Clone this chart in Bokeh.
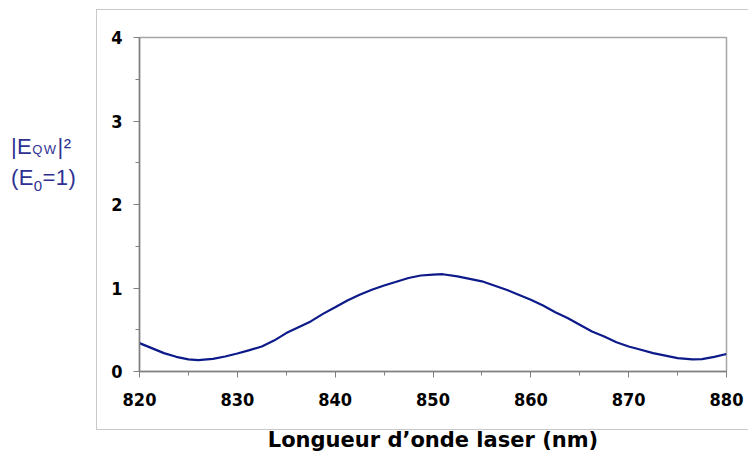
from bokeh.plotting import figure
from bokeh.models import Range1d, FixedTicker, Div, InlineStyleSheet
from bokeh.layouts import row
from bokeh.embed import file_html
from bokeh.resources import INLINE

# data
wavelength = [820, 821.25, 822.5, 823.75, 825, 826, 827.5, 828.75, 830, 831.25, 832.5,
              833.75, 835, 836.25, 837.5, 838.75, 840, 841.25, 842.5, 843.75, 845,
              847.5, 848.75, 850, 851, 852.5, 853.75, 855, 856.25, 857.5, 858.75, 860,
              861.25, 862.5, 863.75, 865, 866.25, 867.5, 868.75, 870, 871.25, 872.5,
              873.75, 875, 876.5, 877.5, 878.75, 880]
intensity = [0.34, 0.28, 0.22, 0.176, 0.145, 0.136, 0.152, 0.18, 0.216, 0.256, 0.30,
             0.37, 0.46, 0.53, 0.60, 0.69, 0.77, 0.85, 0.92, 0.98, 1.03,
             1.12, 1.15, 1.16, 1.165, 1.14, 1.11, 1.08, 1.03, 0.98, 0.92, 0.86,
             0.79, 0.71, 0.64, 0.56, 0.48, 0.42, 0.35, 0.30, 0.26, 0.22,
             0.19, 0.16, 0.145, 0.148, 0.176, 0.21]
x_ticks = [820, 830, 840, 850, 860, 870, 880]
x_minor = [825, 835, 845, 855, 865, 875]
y_ticks = [0, 1, 2, 3, 4]
y_minor = [0.5, 1.5, 2.5, 3.5]
x_title = "Longueur d\u2019onde laser (nm)"

TICK_FONT = "'Liberation Sans Narrow', 'DejaVu Sans Condensed', 'Arial Narrow', sans-serif"
BLUE = "#2e3192"
LEFT_W = 90

p = figure(frame_width=587, frame_height=334, min_border_left=139 - LEFT_W,
           min_border_right=22, min_border_top=37, min_border_bottom=81,
           x_range=Range1d(820, 880), y_range=Range1d(0, 4),
           output_backend="svg", toolbar_location=None)
p.margin = 0

p.line(wavelength, intensity, line_color="#0d1a8a", line_width=2.2)

p.xgrid.visible = False
p.ygrid.visible = False
p.outline_line_color = "#a6a6a6"
p.outline_line_width = 1.5

for ax in (p.xaxis[0], p.yaxis[0]):
    ax.axis_line_color = "#7f7f7f"
    ax.axis_line_width = 1.5
    ax.major_tick_line_color = "#7f7f7f"
    ax.minor_tick_line_color = "#7f7f7f"
    ax.major_tick_out = 6
    ax.major_tick_in = 0
    ax.minor_tick_out = 4
    ax.minor_tick_in = 0
    ax.major_label_text_font = TICK_FONT
    ax.major_label_text_font_style = "bold"
    ax.major_label_text_font_size = "18px"
    ax.major_label_text_color = "black"

p.xaxis[0].ticker = FixedTicker(ticks=x_ticks, minor_ticks=x_minor)
p.yaxis[0].ticker = FixedTicker(ticks=y_ticks, minor_ticks=y_minor)
p.xaxis[0].major_label_standoff = 15
p.yaxis[0].major_label_standoff = 11

p.xaxis[0].axis_label = x_title
p.xaxis[0].axis_label_text_font = "DejaVu Sans"
p.xaxis[0].axis_label_text_font_style = "bold"
p.xaxis[0].axis_label_text_font_size = "21px"
p.xaxis[0].axis_label_text_color = "black"
p.xaxis[0].axis_label_standoff = 19

# outer chart-area box (light grey frame around the chart area)
p.stylesheets = [InlineStyleSheet(css=(
    ":host { position: relative; overflow: hidden; }"
    ":host::after { content: ''; position: absolute; left: %dpx; top: 9px; right: -6px;"
    " height: 421px; border: 1px solid #c8c8c8; box-sizing: border-box;"
    " pointer-events: none; }" % (96 - LEFT_W)))]

ylab_html = (
    '<div style="font-family:\'Liberation Sans\',Arial,sans-serif;font-size:22px;'
    'color:%s;line-height:28px;padding-top:133px;padding-left:11px;'
    'letter-spacing:0.4px;white-space:nowrap;">'
    '|E<span style="font-size:13px;letter-spacing:1.5px;">QW</span>|\u00b2<br>'
    '(E<span style="font-size:15px;position:relative;top:6px;">0</span>=1)'
    '</div>' % BLUE)
ylab = Div(text=ylab_html, width=LEFT_W, height=452, margin=0)

layout = row(ylab, p, spacing=0)
open("out.html", "w").write(file_html(layout, INLINE))
